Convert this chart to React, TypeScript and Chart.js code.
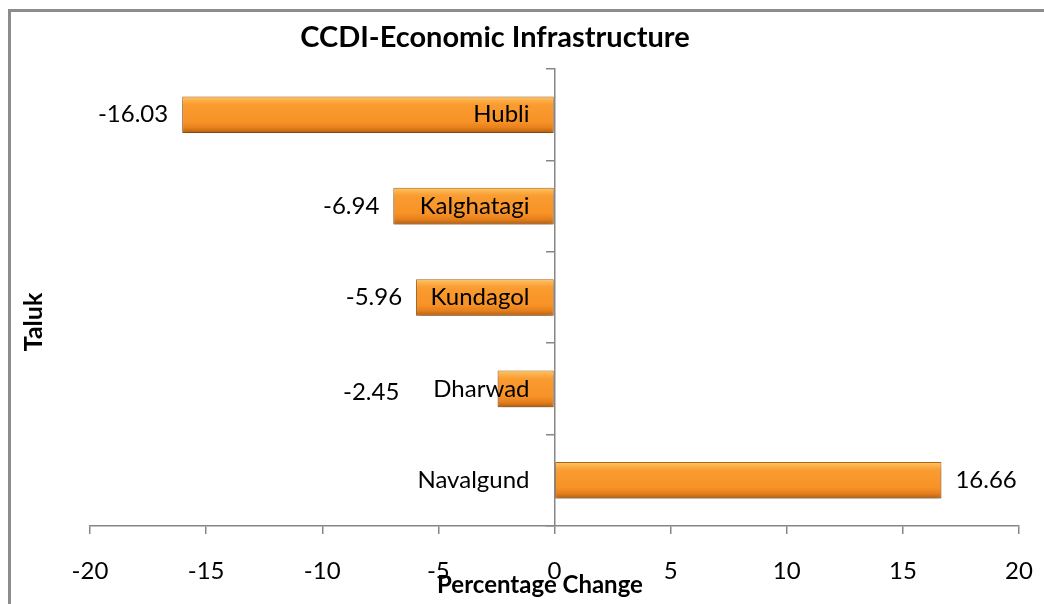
import React, { useEffect, useRef } from "react";
import { Chart, registerables } from "chart.js";

Chart.register(...registerables);

const talukLabels = ["Hubli", "Kalghatagi", "Kundagol", "Dharwad", "Navalgund"];
const percentChange = [-16.03, -6.94, -5.96, -2.45, 16.66];
const valueLabels = ["-16.03", "-6.94", "-5.96", "-2.45", "16.66"];
const chartTitle = "CCDI-Economic Infrastructure";
const xAxisTitle = "Percentage Change";
const yAxisTitle = "Taluk";
const xMin = -20;
const xMax = 20;
const xStep = 5;

const FONT = "Lato, 'Open Sans', sans-serif";
const AXIS_GRAY = "#868686";
const TICK_FONT_SIZE = 24;
const LABEL_PAD = 17;
const TICK_LEN = 8;

export default function App() {
  const canvasRef = useRef<HTMLCanvasElement | null>(null);

  useEffect(() => {
    const canvas = canvasRef.current;
    if (!canvas) return;

    const decorPlugin = {
      id: "decor",
      beforeDraw(chart: any) {
        const ctx = chart.ctx;
        ctx.save();
        ctx.fillStyle = "#ffffff";
        ctx.fillRect(0, 0, chart.width, chart.height);
        ctx.strokeStyle = "#8c8c8c";
        ctx.lineWidth = 3;
        ctx.strokeRect(9.5, 10.5, 1200, 800);
        ctx.restore();
      },
      beforeDatasetsDraw(chart: any) {
        const ctx = chart.ctx;
        ctx.save();
        ctx.shadowColor = "rgba(0,0,0,0.35)";
        ctx.shadowBlur = 6;
        ctx.shadowOffsetX = 0;
        ctx.shadowOffsetY = 4;
      },
      afterDatasetsDraw(chart: any) {
        const ctx = chart.ctx;
        ctx.restore();
        const meta = chart.getDatasetMeta(0);
        const ys = chart.scales.y;
        const zeroPx = chart.scales.x.getPixelForValue(0);
        const labelRight = zeroPx - TICK_LEN - LABEL_PAD;
        ctx.save();
        ctx.font = `${TICK_FONT_SIZE}px ${FONT}`;
        ctx.fillStyle = "#000";
        ctx.textBaseline = "middle";
        // category labels next to the zero axis (over the bars)
        ys.ticks.forEach((t: any, i: number) => {
          ctx.textAlign = "right";
          ctx.fillText(ys.getLabelForValue(t.value), labelRight, ys.getPixelForTick(i));
        });
        // value labels
        meta.data.forEach((bar: any, i: number) => {
          const v = percentChange[i];
          const labelLeft = labelRight - ctx.measureText(talukLabels[i]).width;
          if (v < 0) {
            const overlap = labelLeft < bar.x - 10;
            const xr = overlap ? labelLeft - 34 : bar.x - 14;
            ctx.textAlign = "right";
            ctx.fillText(valueLabels[i], xr, bar.y + (overlap ? 3 : 0));
          } else {
            ctx.textAlign = "left";
            ctx.fillText(valueLabels[i], bar.x + 14, bar.y);
          }
        });
        ctx.restore();
      },
      afterDraw(chart: any) {
        const ctx = chart.ctx;
        ctx.save();
        ctx.fillStyle = "#000";
        ctx.textAlign = "center";
        ctx.textBaseline = "middle";
        ctx.font = `bold 29px ${FONT}`;
        ctx.fillText(chartTitle, 495, 38);
        ctx.textBaseline = "alphabetic";
        ctx.font = `bold 24px ${FONT}`;
        ctx.fillText(xAxisTitle, 540, 593);
        ctx.font = `bold 25px ${FONT}`;
        ctx.translate(42, 322);
        ctx.rotate(-Math.PI / 2);
        ctx.fillText(yAxisTitle, 0, 0);
        ctx.restore();
      },
    };

    const barGradient = (c: any) => {
      const chart = c.chart;
      const ys = chart.scales && chart.scales.y;
      if (!chart.chartArea || !ys || c.dataIndex === undefined) return "#f7941d";
      const y = ys.getPixelForValue(c.dataIndex);
      const h = (ys.height / talukLabels.length) * 0.4;
      const g = chart.ctx.createLinearGradient(0, y - h / 2, 0, y + h / 2);
      g.addColorStop(0, "#fdc56c");
      g.addColorStop(0.1, "#fcb14c");
      g.addColorStop(0.22, "#fa9c30");
      g.addColorStop(0.7, "#f79226");
      g.addColorStop(0.86, "#e67f1c");
      g.addColorStop(1, "#b45e0e");
      return g;
    };

    const chart = new Chart(canvas, {
      type: "bar",
      data: {
        labels: talukLabels,
        datasets: [
          {
            data: percentChange,
            backgroundColor: barGradient,
            borderColor: "#b8640f",
            borderWidth: 1,
            borderSkipped: false,
            barPercentage: 0.4,
            categoryPercentage: 1,
          },
        ],
      },
      options: {
        indexAxis: "y",
        responsive: false,
        animation: false,
        layout: { padding: { left: 90, right: 25, top: 69, bottom: 0 } },
        plugins: {
          legend: { display: false },
          tooltip: { enabled: false },
          title: { display: false },
        },
        scales: {
          x: {
            type: "linear",
            min: xMin,
            max: xMax,
            ticks: {
              stepSize: xStep,
              color: "#000",
              padding: 23,
              font: { family: FONT, size: TICK_FONT_SIZE },
              maxRotation: 0,
            },
            grid: {
              display: true,
              drawOnChartArea: false,
              drawTicks: true,
              tickLength: TICK_LEN,
              color: AXIS_GRAY,
              lineWidth: 1.5,
            },
            border: { display: true, color: AXIS_GRAY, width: 1.5 },
            afterFit: (scale: any) => {
              scale.height = 78;
              scale.paddingLeft = 0;
              scale.paddingRight = 0;
            },
          },
          y: {
            type: "category",
            position: { x: 0 } as any,
            ticks: {
              display: false,
              font: { family: FONT, size: TICK_FONT_SIZE },
            },
            grid: {
              display: true,
              drawOnChartArea: false,
              drawTicks: true,
              tickLength: TICK_LEN,
              color: AXIS_GRAY,
              lineWidth: 1.5,
              offset: true,
            },
            border: { display: true, color: AXIS_GRAY, width: 1.5 },
          },
        },
      },
      plugins: [decorPlugin],
    } as any);

    return () => chart.destroy();
  }, []);

  return (
    <div style={{ position: "absolute", left: 0, top: 0, width: 1044, height: 604, background: "#fff" }}>
      <canvas ref={canvasRef} width={1044} height={604} style={{ display: "block" }} />
    </div>
  );
}
